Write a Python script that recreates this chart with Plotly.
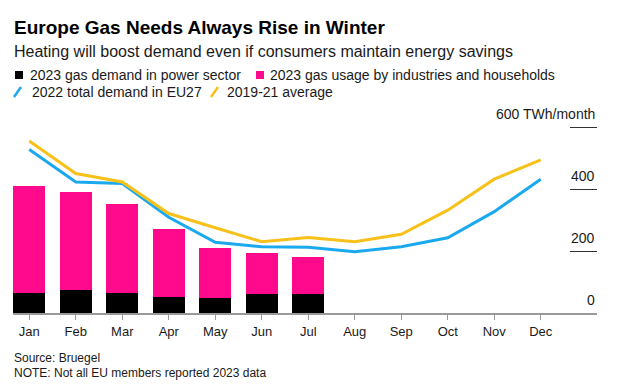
import plotly.graph_objects as go

months = ["Jan", "Feb", "Mar", "Apr", "May", "Jun", "Jul", "Aug", "Sep", "Oct", "Nov", "Dec"]
months_2023 = months[:7]
power_2023 = [65, 74, 63, 53, 50, 61, 61]
ind_households_2023 = [345, 316, 289, 217, 161, 132, 120]
total_2022 = [528, 423, 418, 309, 228, 214, 212, 198, 214, 243, 327, 432]
avg_2019_21 = [555, 450, 423, 321, 275, 230, 244, 230, 254, 332, 432, 494]
y_ticks = [0, 200, 400, 600]
y_ticktext = ["0", "200", "400", "600 TWh/month"]

BLACK = "#000000"
PINK = "#ff0a8c"
BLUE = "#1aa9ee"
YELLOW = "#f7c11a"
TXT = "#1a1a1a"
FONT = "Liberation Sans, Arial, sans-serif"

# the page body adds an 8px margin; size the figure so it fits the 621x385 window
OFF = 8
W, H = 621 - OFF, 385 - OFF
ML, MR, MT, MB = 13 - OFF, 24, 94, 72
PW, PH = W - ML - MR, H - MT - MB


def px2x(px):
    # px: reference-image x pixel
    return (px - OFF - ML) / PW


def py2y(py):
    # py: reference-image y pixel
    return (H - MB - (py - OFF)) / PH


fig = go.Figure()
fig.add_trace(go.Bar(x=months_2023, y=power_2023, marker=dict(color=BLACK, line=dict(width=0)),
                     width=0.68, name="2023 gas demand in power sector"))
fig.add_trace(go.Bar(x=months_2023, y=ind_households_2023, marker=dict(color=PINK, line=dict(width=0)),
                     width=0.68, name="2023 gas usage by industries and households"))
fig.add_trace(go.Scatter(x=months, y=total_2022, mode="lines", line=dict(color=BLUE, width=3),
                         name="2022 total demand in EU27"))
fig.add_trace(go.Scatter(x=months, y=avg_2019_21, mode="lines", line=dict(color=YELLOW, width=3),
                         name="2019-21 average"))

annotations = [
    dict(text="<b>Europe Gas Needs Always Rise in Winter</b>", x=px2x(12), y=py2y(27),
         font=dict(size=19, color="#000")),
    dict(text="Heating will boost demand even if consumers maintain energy savings", x=px2x(12), y=py2y(51),
         font=dict(size=16, color=TXT)),
    dict(text="2023 gas demand in power sector", x=px2x(28), y=py2y(75), font=dict(size=14, color=TXT)),
    dict(text="2023 gas usage by industries and households", x=px2x(268), y=py2y(75),
         font=dict(size=14, color=TXT)),
    dict(text="2022 total demand in EU27", x=px2x(30), y=py2y(92), font=dict(size=14, color=TXT)),
    dict(text="2019-21 average", x=px2x(225), y=py2y(92), font=dict(size=14, color=TXT)),
    dict(text="Source: Bruegel", x=px2x(12), y=py2y(358), font=dict(size=12, color=TXT)),
    dict(text="NOTE: Not all EU members reported 2023 data", x=px2x(12), y=py2y(373),
         font=dict(size=12, color=TXT)),
]
for a in annotations:
    a.update(xref="paper", yref="paper", xanchor="left", yanchor="middle", showarrow=False)

# value-axis labels sit just above their tick marks, right-aligned to the plot edge
for v, t in zip(y_ticks, y_ticktext):
    annotations.append(dict(text=t, x=1, y=v, xref="paper", yref="y", xanchor="right", yanchor="bottom",
                            yshift=3, showarrow=False, font=dict(size=14, color=TXT)))

shapes = [
    dict(type="rect", xref="paper", yref="paper", x0=px2x(15), x1=px2x(23), y0=py2y(79), y1=py2y(71),
         fillcolor=BLACK, line=dict(width=0)),
    dict(type="rect", xref="paper", yref="paper", x0=px2x(256), x1=px2x(264), y0=py2y(79), y1=py2y(71),
         fillcolor=PINK, line=dict(width=0)),
    dict(type="line", xref="paper", yref="paper", x0=px2x(14), x1=px2x(21), y0=py2y(97), y1=py2y(87),
         line=dict(color=BLUE, width=2.5)),
    dict(type="line", xref="paper", yref="paper", x0=px2x(211), x1=px2x(218), y0=py2y(97), y1=py2y(87),
         line=dict(color=YELLOW, width=2.5)),
]

fig.update_layout(
    width=W, height=H,
    margin=dict(l=ML, r=MR, t=MT, b=MB, pad=0),
    paper_bgcolor="white", plot_bgcolor="white",
    barmode="stack", bargap=0.32,
    showlegend=False,
    font=dict(family=FONT, color=TXT),
    annotations=annotations,
    shapes=shapes,
    xaxis=dict(type="category", categoryorder="array", categoryarray=months, range=[-0.35, 12.21],
               showline=True, linecolor="#999999", linewidth=2, ticks="outside", ticklen=5,
               tickcolor="#999999", tickwidth=1, showgrid=False, zeroline=False,
               tickfont=dict(size=13, color=TXT)),
    yaxis=dict(range=[0, 681], side="right", tickvals=y_ticks[1:], ticks="inside",
               ticklen=27, tickcolor="#333333", tickwidth=1, showticklabels=False,
               showgrid=False, zeroline=False, showline=False),
)

fig.write_html("out.html")
